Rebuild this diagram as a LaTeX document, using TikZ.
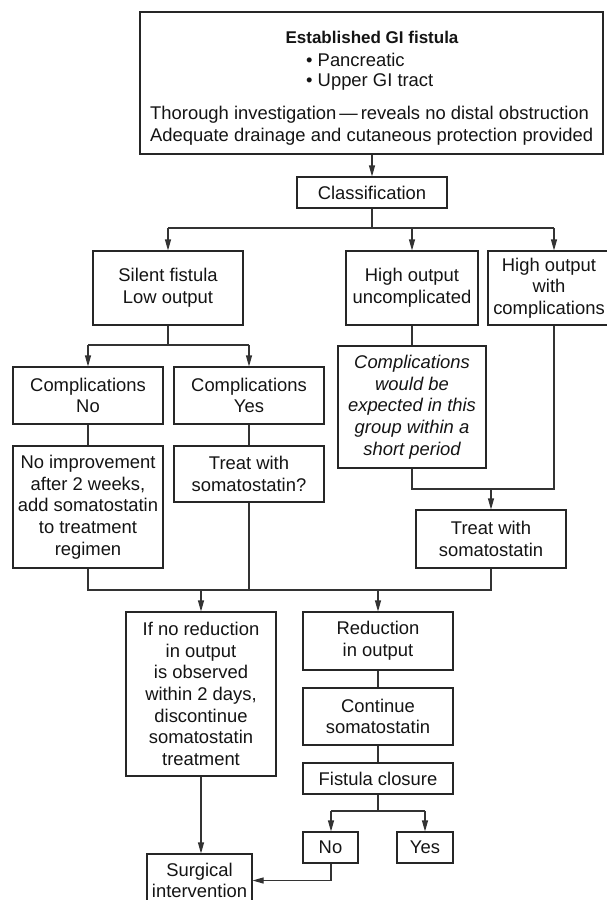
\documentclass[tikz,border=0pt]{standalone}
\usepackage{fontspec}
\setmainfont{Liberation Sans}
\usetikzlibrary{arrows.meta}
\begin{document}
\begin{tikzpicture}[x=1pt,y=-1pt,
  every node/.style={font=\fontsize{18.4}{21.7}\selectfont, text=black!92},
  box/.style={draw=black!85, line width=1.1pt, inner sep=0pt, align=center},
  txt/.style={inner sep=0pt},
  con/.style={draw=black!80, line width=1.1pt},
  arr/.style={con, -{Triangle[length=11pt,width=6pt]}}]
\useasboundingbox (0,0) rectangle (607,900);
\fill[white] (0,0) rectangle (607,900);

% boxes
\node[box, minimum width=463pt, minimum height=142pt] (top) at (371.5,83) {};
\node[txt, font=\fontsize{17}{21.7}\selectfont\bfseries] (t1) at (372,37) {Established GI fistula};
\node[txt, anchor=west] (t2) at (306,60) {• Pancreatic};
\node[txt, anchor=west] (t3) at (306,82) {• Upper GI tract};
\node[txt, anchor=west] (t4) at (150,115) {Thorough investigation\,—\,reveals no distal obstruction};
\node[txt, anchor=west] (t5) at (150,137) {Adequate drainage and cutaneous protection provided};

\node[box, minimum width=150pt, minimum height=31pt] (class) at (372,192.5) {Classification};
\node[box, minimum width=150pt, minimum height=74pt] (silent) at (168,288) {Silent fistula\\Low output};
\node[box, minimum width=132pt, minimum height=74pt] (hou) at (412,288) {High output\\uncomplicated};
\node[box, minimum width=122pt, minimum height=74pt] (howc) at (549,288) {High output\\with\\complications};
\node[box, minimum width=150pt, minimum height=57pt] (compno) at (88,395.5) {Complications\\No};
\node[box, minimum width=150pt, minimum height=57pt] (compyes) at (249,395.5) {Complications\\Yes};
\node[box, minimum width=150pt, minimum height=122pt] (noimp) at (88,507) {No improvement\\after 2 weeks,\\add somatostatin\\to treatment\\regimen};
\node[box, minimum width=150pt, minimum height=56pt] (treatq) at (249,474) {Treat with\\somatostatin?};
\node[box, minimum width=148pt, minimum height=122pt, font=\fontsize{18.4}{21.7}\selectfont\itshape] (italic) at (412,407) {Complications\\would be\\expected in this\\group within a\\short period};
\node[box, minimum width=150pt, minimum height=58pt] (treat) at (491,539) {Treat with\\somatostatin};
\node[box, minimum width=150pt, minimum height=164pt] (noreduc) at (201,694) {If no reduction\\in output\\is observed\\within 2 days,\\discontinue\\somatostatin\\treatment};
\node[box, minimum width=150pt, minimum height=58pt] (reduc) at (378,641) {Reduction\\in output};
\node[box, minimum width=150pt, minimum height=57pt] (cont) at (378,716.5) {Continue\\somatostatin};
\node[box, minimum width=150pt, minimum height=31pt] (closure) at (378,778.5) {Fistula closure};
\node[box, minimum width=55pt, minimum height=31pt] (no) at (330.5,847.5) {No};
\node[box, minimum width=56pt, minimum height=31pt] (yes) at (425,847.5) {Yes};
\node[box, minimum width=105pt, minimum height=53pt] (surg) at (199.5,880.5) {Surgical\\intervention};

% junction coordinates
\coordinate (j1) at (372,228);
\coordinate (j1l) at (168,228);
\coordinate (j1m) at (412,228);
\coordinate (j1r) at (554,228);
\coordinate (j2l) at (88,345);
\coordinate (j2r) at (249,345);
\coordinate (j3) at (491,489);
\coordinate (j3r) at (554,489);
\coordinate (j4l) at (88,590);
\coordinate (j4r) at (491,590);
\coordinate (j4a) at (201,590);
\coordinate (j4b) at (378,590);
\coordinate (j5l) at (331,811);
\coordinate (j5r) at (425,811);

% connectors
\draw[arr] (top.south -| j1) -- (class.north -| j1);
\draw[con] (class.south -| j1) -- (j1);
\draw[con] (j1l) -- (j1r);
\draw[arr] (j1l) -- (silent.north);
\draw[arr] (j1m) -- (hou.north);
\draw[arr] (j1r) -- (j1r |- howc.north);

\draw[con] (silent.south) -- (silent.south |- j2l);
\draw[con] (j2l) -- (j2r);
\draw[arr] (j2l) -- (compno.north);
\draw[arr] (j2r) -- (compyes.north);
\draw[con] (compno) -- (noimp);
\draw[con] (compyes) -- (treatq);
\draw[con] (hou) -- (italic);

\draw[con] (italic.south) |- (j3r) -- (j1r |- howc.south);
\draw[arr] (j3) -- (treat.north);

\draw[con] (noimp.south) -- (j4l) -- (j4r) -- (treat.south);
\draw[con] (treatq.south) -- (treatq.south |- j4l);
\draw[arr] (j4a) -- (noreduc.north);
\draw[arr] (j4b) -- (reduc.north);

\draw[con] (reduc) -- (cont);
\draw[con] (cont) -- (closure);
\draw[con] (closure.south) -- (closure.south |- j5l);
\draw[con] (j5l) -- (j5r);
\draw[arr] (j5l) -- (j5l |- no.north);
\draw[arr] (j5r) -- (yes.north);

\draw[arr] (noreduc.south) -- (noreduc.south |- surg.north);
\draw[arr] (j5l |- no.south) |- (surg.east);
\end{tikzpicture}
\end{document}
